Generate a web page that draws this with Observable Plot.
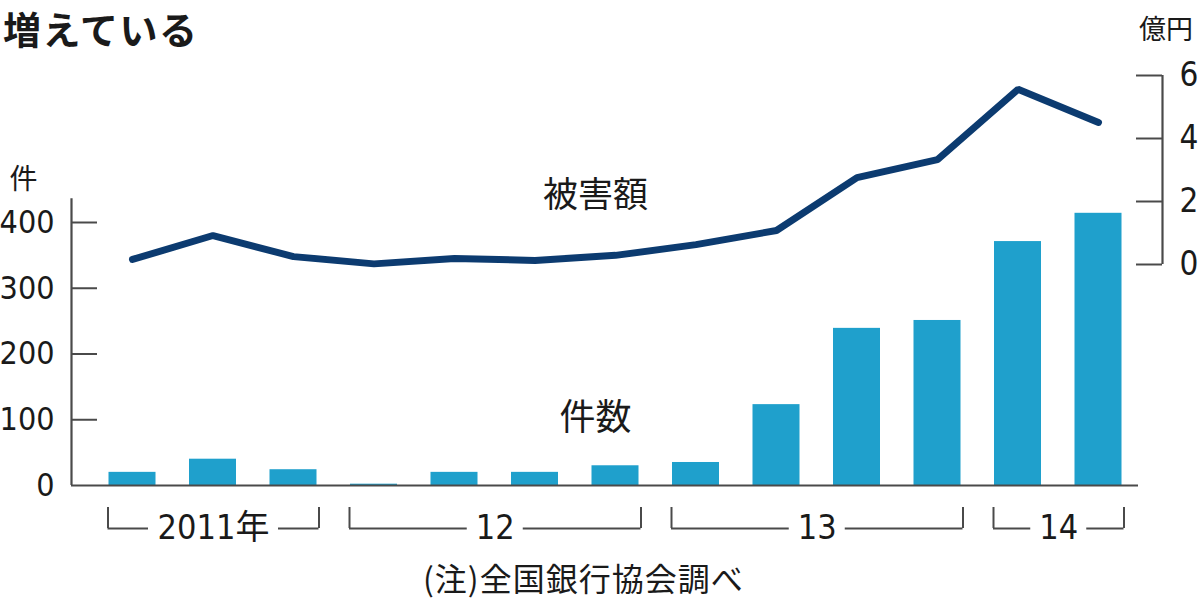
<!DOCTYPE html>
<html><head><meta charset="utf-8">
<script src="https://cdn.jsdelivr.net/npm/d3@7"></script>
<script src="https://cdn.jsdelivr.net/npm/@observablehq/plot@0.6"></script>
<style>
body{margin:0;background:#fff;}
#wrap{position:relative;width:1200px;height:600px;font-family:"Noto Sans CJK JP",sans-serif;color:#1a1a1a}
#head{position:relative;height:50px}
#title{position:absolute;left:3px;top:3px;font-size:38px;font-weight:700;line-height:50px;letter-spacing:1.5px;white-space:nowrap}
#unit{position:absolute;left:1139px;top:10px;font-size:27px;line-height:36px;white-space:nowrap}
#chart{height:510px}
#foot{position:relative;height:40px}
#note{position:absolute;left:423px;top:-6px;font-size:32px;line-height:46px;letter-spacing:1px;white-space:nowrap}
</style></head>
<body>
<div id="wrap">
  <div id="head"><div id="title">増えている</div><div id="unit">億円</div></div>
  <div id="chart"></div>
  <div id="foot"><div id="note">(注)全国銀行協会調べ</div></div>
</div>
<script>
// ---- data ----
const quarters = ["2011-Q2","2011-Q3","2011-Q4","2012-Q1","2012-Q2","2012-Q3","2012-Q4","2013-Q1","2013-Q2","2013-Q3","2013-Q4","2014-Q1","2014-Q2"];
const counts = [20, 40, 24, 2, 20, 20, 30, 35, 123, 239, 251, 371, 414];        // 件数 (件)
const damage = [0.16, 0.92, 0.25, 0.02, 0.19, 0.13, 0.29, 0.63, 1.08, 2.76, 3.33, 5.56, 4.51]; // 被害額 (億円)
const yearLabels = ["2011年", "12", "13", "14"];
const yearFirst = [0, 3, 7, 11];
const yearLast = [2, 6, 10, 12];
const leftTicks = [0, 100, 200, 300, 400];
const rightTicks = [0, 2, 4, 6];

// ---- style / layout constants ----
const barColor = "#1fa0cc";
const lineColor = "#0c3b70";
const axisColor = "#4a4a4a";
const textColor = "#1a1a1a";
const numFont = "'Liberation Sans Narrow','Arial Narrow','DejaVu Sans Condensed','Liberation Sans','Noto Sans CJK JP',sans-serif";
const cjkFont = "'Noto Sans CJK JP',sans-serif";

const xRange = [132, 1098];
const pxPerUnit = (xRange[1] - xRange[0]) / (quarters.length - 1);
const px = p => p / pxPerUnit;
const xLeft = -px(61);       // left axis line
const xBaseEnd = 12 + px(40); // end of baseline
const xRight = 12 + px(64);  // right axis line
const halfBar = px(23.5);

// money -> count scale mapping (right axis shares the y scale)
const yPxPerCount = (435 - 172) / 400;
const moneyPx = 31.5;
const money0Count = (435 - 214) / yPxPerCount;
const conv = m => money0Count + m * moneyPx / yPxPerCount;
const pyToCount = py => (435 - py) / yPxPerCount;

const rows = quarters.map((q, i) => ({q, i, count: counts[i], money: damage[i]}));

// brackets
const textW = s => [...s].reduce((a, ch) => a + (/[0-9]/.test(ch) ? 19 : 36), 0);
const years = yearLabels.map((label, k) => {
  const l = yearFirst[k] - halfBar - px(1);
  const r = yearLast[k] + halfBar + px(2);
  const c = (l + r) / 2;
  const g = px(textW(label) / 2 + 9);
  return {label, l, r, c, gl: c - g, gr: c + g};
});
const bTop = pyToCount(457), bBot = pyToCount(478);

const chart = Plot.plot({
  width: 1200,
  height: 510,
  x: {domain: [0, 12], range: xRange, axis: null},
  y: {domain: [0, 400], range: [435, 172], axis: null},
  marks: [
    // bars
    Plot.rectY(rows, {x1: d => d.i - halfBar, x2: d => d.i + halfBar, y1: 0, y2: "count", fill: barColor}),
    // baseline
    Plot.ruleY([0], {x1: xLeft, x2: xBaseEnd, stroke: axisColor, strokeWidth: 2.2}),
    // left axis
    Plot.ruleX([xLeft], {y1: 0, y2: 436, stroke: axisColor, strokeWidth: 2.2}),
    Plot.ruleY(leftTicks.filter(d => d > 0), {x1: xLeft, x2: xLeft + px(26), y: d => d, stroke: axisColor, strokeWidth: 2}),
    Plot.text(leftTicks, {x: xLeft, y: d => d, dx: -17, text: d => String(d), textAnchor: "end", fontSize: 32, fontFamily: numFont, fill: textColor}),
    Plot.text(["件"], {x: xLeft, y: pyToCount(130), dx: -48, text: d => d, textAnchor: "middle", fontSize: 28, fontFamily: cjkFont, fill: textColor}),
    // right axis
    Plot.ruleX([xRight], {y1: conv(0), y2: conv(6), stroke: axisColor, strokeWidth: 2.2}),
    Plot.ruleY(rightTicks, {x1: xRight - px(26), x2: xRight, y: d => conv(d), stroke: axisColor, strokeWidth: 2}),
    Plot.text(rightTicks, {x: xRight, y: d => conv(d), dx: 17, text: d => String(d), textAnchor: "start", fontSize: 33, fontFamily: numFont, fill: textColor}),
    // line
    Plot.line(rows, {x: "i", y: d => conv(d.money), stroke: lineColor, strokeWidth: 7, strokeLinejoin: "miter", strokeLinecap: "round"}),
    // series labels
    Plot.text(["被害額"], {x: px(595 - 132), y: pyToCount(145), text: d => d, fontSize: 35, fontFamily: cjkFont, fill: textColor}),
    Plot.text(["件数"], {x: px(595 - 132), y: pyToCount(368), text: d => d, fontSize: 36, fontFamily: cjkFont, fill: textColor}),
    // year brackets
    Plot.ruleX(years, {x: "l", y1: bTop, y2: bBot, stroke: axisColor, strokeWidth: 2}),
    Plot.ruleX(years, {x: "r", y1: bTop, y2: bBot, stroke: axisColor, strokeWidth: 2}),
    Plot.ruleY(years, {x1: "l", x2: "gl", y: bBot, stroke: axisColor, strokeWidth: 2}),
    Plot.ruleY(years, {x1: "gr", x2: "r", y: bBot, stroke: axisColor, strokeWidth: 2}),
    Plot.text(years, {x: "c", y: bBot, text: "label", fontSize: 34, fontFamily: numFont, fill: textColor})
  ]
});
document.getElementById("chart").appendChild(chart);
</script>
</body></html>
